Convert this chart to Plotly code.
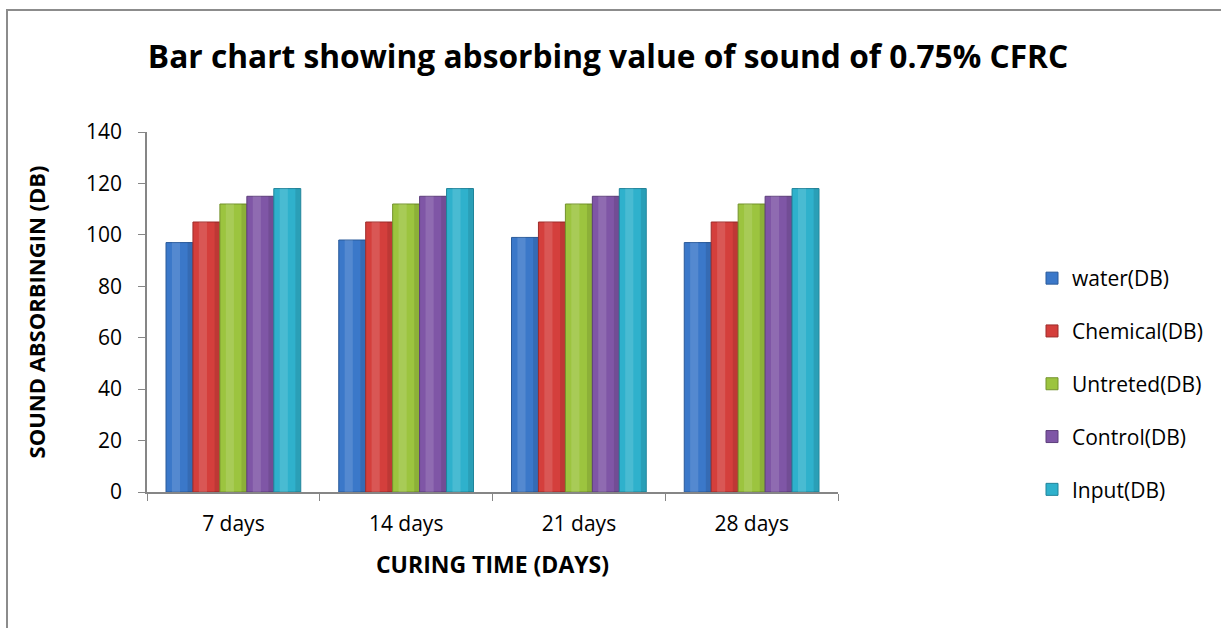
import plotly.graph_objects as go

# Curing times along the x axis
categories = ["7 days", "14 days", "21 days", "28 days"]

# Sound absorbing values (dB) for each treatment
water = [97, 98, 99, 97]
chemical = [105, 105, 105, 105]
untreated = [112, 112, 112, 112]
control = [115, 115, 115, 115]
input_db = [118, 118, 118, 118]

series_names = ["water(DB)", "Chemical(DB)", "Untreted(DB)", "Control(DB)", "Input(DB)"]
series_values = [water, chemical, untreated, control, input_db]
series_colors = ["#3b78c9", "#d43f3c", "#9cc43f", "#7f56a6", "#2fb1cc"]
series_edges = ["#2a5a9a", "#9e2c2a", "#73922c", "#5d3e7b", "#20849a"]

y_ticks = [0, 20, 40, 60, 80, 100, 120, 140]

FONT = "Open Sans"
W, H = 1221, 628

# Clustered bars laid out by hand: 5 slots sharing 78% of each category
GROUP = 0.78
slot = GROUP / len(series_names)

fig = go.Figure()
for i, (name, vals, col, edge) in enumerate(zip(series_names, series_values, series_colors, series_edges)):
    left = -GROUP / 2 + i * slot
    fig.add_trace(go.Bar(
        x=categories, y=vals, name=name, legendgroup=name,
        width=slot, offset=left,
        marker=dict(color=col, line=dict(color=edge, width=1)),
    ))
    # soft highlight and shadow strips for a rounded look
    fig.add_trace(go.Bar(
        x=categories, y=vals, legendgroup=name, showlegend=False, hoverinfo="skip",
        width=slot * 0.3, offset=left + slot * 0.22,
        marker=dict(color="rgba(255,255,255,0.13)", line=dict(width=0)),
    ))
    fig.add_trace(go.Bar(
        x=categories, y=vals, legendgroup=name, showlegend=False, hoverinfo="skip",
        width=slot * 0.18, offset=left + slot * 0.8,
        marker=dict(color="rgba(0,0,0,0.10)", line=dict(width=0)),
    ))

fig.update_layout(
    width=W, height=H,
    paper_bgcolor="white", plot_bgcolor="white",
    margin=dict(l=147, r=W - 838, t=132, b=H - 492),
    barmode="overlay",
    font=dict(family=FONT, color="black"),
    title=dict(
        text="<b>Bar chart showing absorbing value of sound of 0.75% CFRC</b>",
        font=dict(size=31.7, family=FONT, color="black"),
        x=608 / W, xanchor="center", xref="container",
        y=1 - 57 / H, yanchor="middle", yref="container",
    ),
    legend=dict(
        x=1032 / W, xref="container", xanchor="left",
        y=1 - 258 / H, yref="container", yanchor="top",
        font=dict(size=21, family=FONT),
        tracegroupgap=22.5, itemwidth=30,
        bgcolor="rgba(0,0,0,0)",
    ),
    showlegend=True,
)

fig.update_xaxes(
    showline=True, linecolor="#868686", linewidth=1.5,
    ticks="outside", tickson="boundaries", ticklen=7, tickcolor="#868686",
    tickfont=dict(size=21, family=FONT), ticklabelstandoff=12,
    showgrid=False,
    title=dict(text="<b>CURING TIME (DAYS)</b>", font=dict(size=23, family=FONT), standoff=21),
)
fig.update_yaxes(
    range=[0, 140], tickvals=y_ticks,
    showline=True, linecolor="#868686", linewidth=1.5,
    ticks="outside", ticklen=7, tickcolor="#868686",
    tickfont=dict(size=21, family=FONT), ticklabelstandoff=12,
    showgrid=False, zeroline=False,
    title=dict(text="<b>SOUND ABSORBINGIN (DB)</b>", font=dict(size=22, family=FONT), standoff=34),
)

# Outer chart frame
fig.add_shape(type="rect", xref="paper", yref="paper",
              x0=(7 - 147) / 691, x1=(1300 - 147) / 691,
              y0=-(700 - 492) / 360, y1=(492 - 10) / 360,
              line=dict(color="#8c8c8c", width=2), fillcolor="rgba(0,0,0,0)", layer="below")

fig.write_html("out.html")
